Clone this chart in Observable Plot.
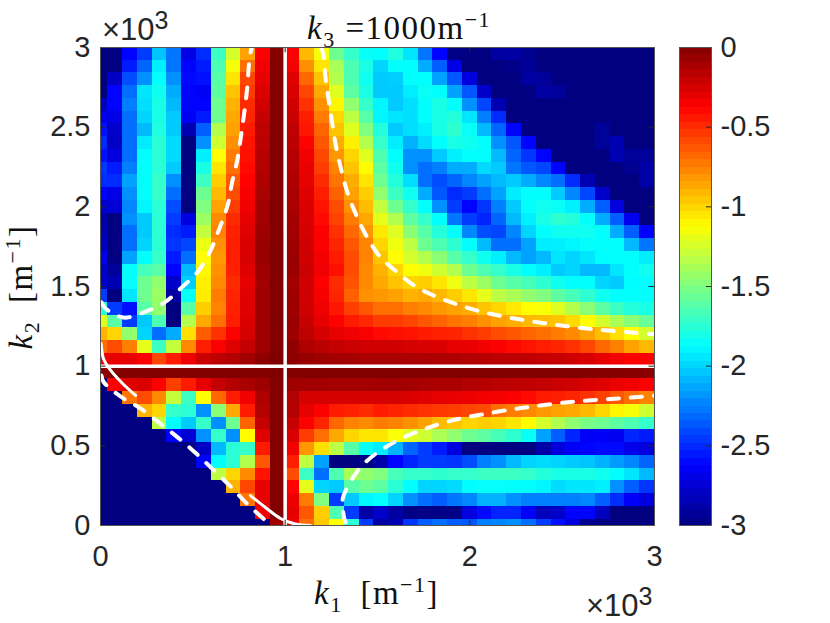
<!DOCTYPE html>
<html>
<head>
<meta charset="utf-8">
<script src="https://cdn.jsdelivr.net/npm/d3@7"></script>
<script src="https://cdn.jsdelivr.net/npm/@observablehq/plot@0.6"></script>
<style>
  body { margin: 0; background: #fff; }
  #fig { position: relative; width: 830px; height: 623px; overflow: hidden; }
  #fig svg { position: absolute; left: 0; top: 0; background: transparent; }
  .lab { position: absolute; white-space: nowrap; color: #111; font: 33px/1 "Liberation Serif", serif; letter-spacing: 1.5px; }
  .lab sub, .lab sup { font-size: 22px; line-height: 0; }
  .lab .gap { margin-left: 8px; }
  .mult { position: absolute; white-space: nowrap; color: #262626; font: 31px/1 "Liberation Sans", sans-serif; }
  .mult sup { font-size: 25px; line-height: 0; }
</style>
</head>
<body>
<div id="fig">
  <div class="mult" style="left:102px;top:14px">×10<sup>3</sup></div>
  <div class="lab" style="left:307px;top:12px"><i>k</i><sub>3</sub> =1000m<sup>−1</sup></div>
  <div class="lab" style="left:314px;top:577px"><i>k</i><sub>1</sub> <span class="gap">[m<sup>−1</sup>]</span></div>
  <div class="mult" style="left:586px;top:590px">×10<sup>3</sup></div>
  <div class="lab" style="left:21px;top:287px;transform:translate(-50%,-50%) rotate(-90deg)"><i>k</i><sub>2</sub> <span class="gap">[m<sup>−1</sup>]</span></div>
</div>
<script>
// cell edges of k1 and k2, the first cell is a half one
const edges = [0, 40, 120, 200, 280, 360, 440, 520, 600, 680, 760, 840, 920, 1000, 1080, 1160, 1240, 1320, 1400, 1480,
  1560, 1640, 1720, 1800, 1880, 1960, 2040, 2120, 2200, 2280, 2360, 2440, 2520, 2600, 2680, 2760, 2840, 2920, 3000];

// log10 level per cell, top row (k2 = 3000) first, left to right
const levels = [
  [-3,-3,-2.62,-2.45,-2.05,-2.28,-2.7,-2.5,-1.7,-1.25,-.85,-.37,-.02,-.37,-.92,-1.15,-1.55,-1.72,-1.85, -1.87,-1.78,-1.95,-2.28,-2.62,-2.98,-3,-3,-2.9,-2.9,-2.95,-3,-3,-3,-3,-3,-3,-3,-3],
  [-3,-3,-2.55,-2.33,-1.92,-2.28,-2.62,-2.55,-1.65,-1.15,-.7,-.33,-.01,-.35,-.8,-1.05,-1.38,-1.65,-1.8, -2,-1.87,-1.87,-2.12,-2.35,-2.7,-3,-3,-3,-2.97,-2.93,-3,-3,-3,-3,-3,-3,-3,-3],
  [-3,-2.8,-2.4,-2.2,-1.87,-2.2,-2.6,-2.58,-1.62,-1.05,-.58,-.3,-.01,-.28,-.68,-.95,-1.35,-1.65,-1.83, -2.03,-2.02,-1.87,-1.87,-2.15,-2.37,-2.72,-3,-3,-3,-2.9,-2.92,-3,-3,-3,-3,-3,-3,-3],
  [-3,-2.62,-2.3,-1.95,-1.83,-2.12,-2.62,-2.65,-1.6,-.95,-.55,-.27,-.01,-.27,-.58,-.87,-1.22,-1.6,-1.8, -2.03,-2.03,-1.93,-1.85,-1.87,-2.15,-2.37,-2.78,-3,-3,-3,-2.9,-2.92,-3,-3,-3,-3,-3,-3],
  [-2.8,-2.62,-2.25,-1.97,-1.8,-2.08,-2.62,-2.62,-1.55,-.9,-.5,-.24,-.01,-.24,-.52,-.8,-1.1,-1.45,-1.72, -1.9,-2.03,-1.97,-1.87,-1.8,-1.87,-2.2,-2.42,-2.85,-3,-3,-3,-3,-3,-3,-3,-3,-3,-3],
  [-2.68,-2.7,-2.3,-2,-1.8,-2.03,-2.65,-2.55,-1.55,-.87,-.48,-.2,-.01,-.22,-.46,-.74,-1,-1.32,-1.62, -1.9,-1.95,-1.97,-1.87,-1.8,-1.77,-1.95,-2.25,-2.5,-3,-3,-3,-3,-3,-3,-3,-3,-3,-3],
  [-2.58,-2.78,-2.3,-2.08,-1.78,-2.03,-2.85,-2.35,-1.35,-.85,-.45,-.18,-.01,-.18,-.44,-.67,-.95,-1.22,-1.5, -1.77,-2.03,-1.97,-1.92,-1.8,-1.74,-1.85,-2.08,-2.33,-2.62,-3,-3,-3,-3,-3,-2.92,-3,-3,-3],
  [-2.5,-2.8,-2.3,-1.93,-1.75,-1.98,-3,-2.2,-1.27,-.8,-.43,-.17,-.01,-.17,-.38,-.63,-.88,-1.08,-1.35, -1.72,-1.93,-2.1,-1.98,-1.87,-1.8,-1.83,-1.87,-2.2,-2.37,-2.62,-3,-3,-3,-3,-2.92,-2.85,-3,-3],
  [-2.58,-2.72,-2.3,-1.87,-1.75,-1.98,-3,-1.92,-1.13,-.74,-.42,-.16,-.01,-.16,-.33,-.58,-.82,-1,-1.22, -1.65,-1.87,-2.2,-2.2,-2.03,-1.92,-1.87,-1.87,-2.08,-2.33,-2.47,-2.62,-3,-3,-3,-3,-2.85,-2.92,-2.92],
  [-2.47,-2.55,-2.25,-1.87,-1.75,-2.03,-3,-1.8,-1.05,-.7,-.4,-.15,-.01,-.15,-.31,-.55,-.76,-.95,-1.12, -1.6,-1.83,-2.2,-2.3,-2.25,-2.12,-2.12,-1.98,-2.03,-2.28,-2.37,-2.42,-2.62,-3,-3,-3,-3,-2.95,-2.88],
  [-2.5,-2.5,-2.15,-1.87,-1.72,-2.2,-3,-1.7,-.98,-.64,-.38,-.14,-.01,-.14,-.3,-.5,-.72,-.88,-1.05, -1.55,-1.77,-1.97,-2.3,-2.4,-2.33,-2.23,-2.15,-2.08,-2.03,-2.12,-2.23,-2.3,-2.5,-2.85,-3,-3,-3,-2.88],
  [-2.62,-2.7,-2.2,-1.87,-1.72,-2.3,-3,-1.55,-.92,-.6,-.35,-.12,-.01,-.12,-.28,-.46,-.66,-.85,-.98, -1.45,-1.7,-1.83,-2.12,-2.37,-2.5,-2.45,-2.3,-2.15,-1.93,-1.87,-1.87,-2.03,-2.23,-2.42,-2.78,-3,-3,-3],
  [-2.78,-2.75,-2.23,-1.9,-1.75,-2.4,-3,-1.5,-.85,-.55,-.33,-.1,-.01,-.12,-.27,-.43,-.6,-.8,-.93, -1.3,-1.55,-1.72,-1.87,-2.2,-2.45,-2.62,-2.47,-2.25,-2.03,-1.87,-1.83,-1.85,-1.92,-2.12,-2.35,-2.72,-3,-3],
  [-2.88,-3,-2.2,-2.03,-1.75,-2.45,-2.72,-1.42,-.78,-.5,-.3,-.1,-.01,-.11,-.26,-.4,-.57,-.74,-.87, -1.2,-1.35,-1.6,-1.72,-1.87,-2.28,-2.45,-2.52,-2.33,-2.08,-1.92,-1.8,-1.74,-1.77,-1.87,-2.12,-2.35,-2.68,-3],
  [-2.85,-3,-2.3,-2.03,-1.75,-2.5,-2.55,-1.3,-.76,-.47,-.28,-.09,-.01,-.1,-.25,-.37,-.52,-.68,-.82, -1.06,-1.22,-1.47,-1.62,-1.77,-1.87,-2.23,-2.4,-2.42,-2.23,-2,-1.87,-1.83,-1.83,-1.83,-1.87,-2.12,-2.35,-2.62],
  [-2.8,-3,-2.3,-2,-1.75,-2.47,-2.42,-1.18,-.8,-.46,-.27,-.08,-.01,-.09,-.24,-.36,-.48,-.63,-.76, -1,-1.17,-1.32,-1.55,-1.65,-1.74,-1.87,-2.08,-2.3,-2.3,-2.15,-1.93,-1.92,-1.9,-1.87,-1.87,-1.87,-2.08,-2.28],
  [-2.68,-3,-2.15,-1.87,-1.72,-2.55,-2.3,-1.13,-.82,-.46,-.26,-.07,-.01,-.08,-.23,-.34,-.45,-.6,-.76, -.95,-1.12,-1.25,-1.35,-1.47,-1.62,-1.72,-1.83,-1.92,-2.08,-2.15,-2.08,-1.95,-2,-1.95,-1.88,-1.87,-1.87,-1.93],
  [-2.78,-2.92,-1.87,-1.67,-1.62,-2.62,-2.08,-1.1,-.8,-.47,-.28,-.09,-.01,-.08,-.22,-.33,-.42,-.6,-.78, -.9,-1,-1.12,-1.17,-1.27,-1.35,-1.55,-1.65,-1.72,-1.8,-1.87,-1.92,-2.03,-2,-2.08,-2.08,-1.95,-1.87,-1.83],
  [-2.78,-2.85,-1.87,-1.55,-1.45,-2.78,-2.02,-1.08,-.78,-.5,-.3,-.1,-.01,-.1,-.24,-.37,-.5,-.62,-.78, -.87,-.95,-1,-.98,-1.05,-1.17,-1.32,-1.42,-1.55,-1.62,-1.67,-1.74,-1.83,-1.87,-1.87,-2,-2.03,-1.88,-1.87],
  [-2.45,-3,-1.95,-1.55,-1.42,-2.9,-1.85,-1.07,-.74,-.48,-.28,-.09,-.01,-.09,-.24,-.35,-.48,-.66,-.8, -.82,-.85,-.9,-.87,-.92,-.98,-1.05,-1.2,-1.32,-1.37,-1.45,-1.5,-1.6,-1.67,-1.74,-1.83,-1.87,-1.87,-1.87],
  [-1.75,-2.45,-2.58,-1.62,-1.45,-3,-1.62,-.98,-.76,-.47,-.28,-.09,-.01,-.09,-.23,-.33,-.44,-.56,-.63, -.7,-.7,-.75,-.78,-.82,-.85,-.88,-.95,-1,-1.06,-1.12,-1.14,-1.22,-1.35,-1.47,-1.6,-1.7,-1.77,-1.8],
  [-1.22,-1.62,-2.45,-2.03,-1.65,-3,-1.35,-.87,-.7,-.46,-.27,-.09,-.01,-.08,-.21,-.3,-.37,-.45,-.49, -.55,-.55,-.58,-.63,-.67,-.72,-.75,-.8,-.85,-.88,-.92,-.93,-.95,-1.02,-1.12,-1.25,-1.37,-1.47,-1.57],
  [-.9,-1,-1.45,-2,-2.3,-2.12,-1.03,-.65,-.52,-.37,-.25,-.09,-.01,-.09,-.18,-.25,-.3,-.33,-.36, -.4,-.42,-.43,-.45,-.47,-.48,-.52,-.55,-.6,-.63,-.67,-.7,-.74,-.78,-.85,-.93,-1.03,-1.12,-1.25],
  [-.7,-.6,-.75,-1.2,-1.7,-1.3,-.78,-.46,-.36,-.28,-.2,-.09,-.01,-.05,-.14,-.17,-.2,-.22,-.24, -.24,-.24,-.25,-.26,-.27,-.3,-.31,-.34,-.37,-.4,-.43,-.46,-.48,-.52,-.58,-.68,-.75,-.85,-.92],
  [-.33,-.3,-.3,-.37,-.58,-.45,-.33,-.22,-.18,-.15,-.1,-.04,0,-.04,-.07,-.09,-.1,-.11,-.12, -.12,-.12,-.13,-.13,-.14,-.14,-.15,-.16,-.17,-.18,-.19,-.2,-.21,-.24,-.26,-.3,-.34,-.37,-.37],
  [-.05,-.01,-.01,-.01,-.01,-.01,-.01,-.01,-.01,-.01,-.01,-.01,0,-.01,-.01,-.01,-.01,-.01,-.01, -.01,-.01,-.01,-.01,-.01,-.01,-.01,-.01,-.01,-.01,-.01,-.01,-.01,-.01,-.01,-.02,-.02,-.03,-.03],
  [-3,-.37,-.28,-.27,-.37,-.56,-.45,-.3,-.2,-.15,-.12,-.09,-.01,-.09,-.1,-.1,-.11,-.11,-.11, -.1,-.1,-.11,-.12,-.13,-.13,-.15,-.16,-.17,-.18,-.19,-.2,-.22,-.23,-.26,-.28,-.32,-.34,-.37],
  [-3,-3,-.72,-.6,-.78,-1.3,-1.7,-1.13,-.68,-.45,-.34,-.14,-.01,-.15,-.25,-.25,-.25,-.25,-.25, -.25,-.25,-.27,-.28,-.3,-.31,-.32,-.34,-.35,-.37,-.4,-.45,-.46,-.48,-.52,-.56,-.63,-.7,-.76],
  [-3,-3,-3,-.9,-1,-1.72,-1.75,-2.2,-1.47,-.87,-.45,-.15,-.01,-.15,-.3,-.37,-.45,-.47,-.5, -.45,-.48,-.5,-.52,-.54,-.55,-.58,-.6,-.7,-.74,-.78,-.82,-.85,-.87,-.92,-1,-1.1,-1.15,-1.27],
  [-3,-3,-3,-3,-1.32,-1.87,-2.03,-1.72,-2.2,-1.55,-.67,-.2,-.01,-.2,-.37,-.48,-.68,-.76,-.78, -.74,-.76,-.8,-.85,-.92,-.95,-1,-.98,-1,-1.05,-1.12,-1.25,-1.35,-1.45,-1.52,-1.55,-1.6,-1.65,-1.72],
  [-3,-3,-3,-3,-3,-2.62,-2.75,-2.2,-1.72,-2.2,-1.12,-.28,-.01,-.26,-.55,-.7,-.87,-1,-1.05, -1.05,-1.14,-1.22,-1.27,-1.37,-1.45,-1.55,-1.6,-1.67,-1.74,-1.85,-2.15,-2.35,-2.52,-2.65,-2.65,-2.67,-2.52,-2.55],
  [-3,-3,-3,-3,-3,-3,-3,-2.8,-2.08,-1.75,-1.72,-.45,-.01,-.34,-.82,-1.03,-1.32,-1.62,-1.85, -1.93,-2.1,-2.33,-2.45,-2.55,-2.72,-3,-3,-3,-3,-3,-2.88,-2.72,-2.65,-2.62,-2.6,-2.6,-2.68,-2.72],
  [-3,-3,-3,-3,-3,-3,-3,-2.62,-1.87,-1.75,-1.35,-.63,-.01,-.46,-1.32,-2.15,-3,-3,-3, -2.88,-2.62,-2.52,-2.45,-2.45,-2.47,-2.4,-2.25,-2.2,-2.08,-2,-1.98,-2,-2.03,-2.05,-2.1,-2.17,-2.23,-2.33],
  [-3,-3,-3,-3,-3,-3,-3,-3,-1.32,-1,-.78,-.43,-.01,-.6,-1.7,-2.3,-1.65,-1.38,-1.45, -1.5,-1.67,-1.72,-1.72,-1.74,-1.72,-1.72,-1.7,-1.7,-1.7,-1.72,-1.77,-1.8,-1.8,-1.8,-1.83,-1.87,-1.95,-2.08],
  [-3,-3,-3,-3,-3,-3,-3,-3,-3,-.9,-.58,-.3,-.01,-.38,-1.2,-2,-2.03,-1.62,-1.55, -1.6,-1.75,-1.87,-2,-2,-1.98,-1.88,-1.86,-1.86,-1.87,-1.87,-1.9,-1.98,-1.95,-1.95,-1.92,-2.2,-2.35,-2.47],
  [-3,-3,-3,-3,-3,-3,-3,-3,-3,-3,-.72,-.3,-.01,-.32,-.74,-1.5,-2.45,-2.03,-1.9, -1.87,-2,-2.2,-2.3,-2.35,-2.28,-2.23,-2.1,-2.1,-2.2,-2.25,-2.25,-2.25,-2.25,-2.23,-2.35,-2.5,-2.65,-2.72],
  [-3,-3,-3,-3,-3,-3,-3,-3,-3,-3,-3,-.33,-.01,-.3,-.63,-.98,-1.65,-2.45,-2.88, -2.78,-2.9,-2.98,-2.98,-2.98,-2.98,-2.72,-2.6,-2.52,-2.52,-2.65,-2.82,-2.78,-2.62,-2.62,-2.82,-3,-3,-3],
  [-3,-3,-3,-3,-3,-3,-3,-3,-3,-3,-3,-3,-.1,-.34,-.7,-.96,-1.13,-1.75,-2.45, -2.9,-2.85,-2.47,-2.35,-2.3,-2.35,-2.37,-2.25,-2.23,-2.2,-2.3,-2.45,-2.58,-2.72,-2.95,-3,-3,-3,-3]
];

// dashed curves as [k1, k2]
const curveTopLeft = [[5,1400],[27,1362],[125,1305],[244,1343],[347,1400],[442,1496],[532,1600],[596,1726],[644,1864],[688,2008],[713,2155],[742,2301],[760,2437],[780,2605],[794,2741],[807,2929],[818,3000]];
const curveTopRight = [[1194,3000],[1206,2962],[1218,2813],[1236,2667],[1255,2523],[1276,2374],[1305,2228],[1339,2084],[1386,1946],[1444,1809],[1516,1684],[1607,1590],[1706,1500],[1814,1439],[1922,1391],[2040,1349],[2157,1318],[2283,1291],[2401,1270],[2527,1251],[2644,1234],[2771,1222],[2897,1209],[3000,1200]];
const curveBottomRight = [[1327,19],[1317,63],[1312,168],[1363,293],[1426,387],[1516,471],[1625,544],[1733,596],[1850,642],[1967,676],[2085,701],[2211,726],[2328,745],[2455,764],[2572,778],[2698,789],[2825,799],[2951,810],[3000,814]];
const curveBottomLeft = [[5,941],[18,899],[108,810],[220,732],[325,638],[421,550],[520,450],[610,351],[704,245],[794,136],[893,31],[921,0]];
// solid curves near the corners
const solidLeft = [[3,1142],[16,1048],[43,992],[114,897],[190,816]];
const solidBottom = [[812,188],[893,113],[975,44],[1056,9],[1137,0]];

const axisTicksX = [0, 1000, 2000, 3000];
const axisTicksY = [0, 500, 1000, 1500, 2000, 2500, 3000];
const barTicks = [-3, -2.5, -2, -1.5, -1, -0.5, 0];
const barTickLabels = ["-3", "-2.5", "-2", "-1.5", "-1", "-0.5", "0"];

const jet = {
  type: "linear",
  domain: [-3, -2.625, -1.875, -1.125, -0.375, 0],
  range: ["#000080", "#0000ff", "#00ffff", "#ffff00", "#ff0000", "#800000"]
};

const cells = levels.flatMap((row, r) =>
  row.map((v, c) => ({ c, j: levels.length - 1 - r, v }))
);
const dashed = [curveTopLeft, curveTopRight, curveBottomRight, curveBottomLeft];
const solid = [solidLeft, solidBottom];
const textStyle = {
  fontFamily: "'Liberation Sans', sans-serif",
  fontSize: "29px",
  color: "#262626"
};

const main = Plot.plot({
  width: 830,
  height: 623,
  marginLeft: 100,
  marginRight: 176,
  marginTop: 47,
  marginBottom: 98,
  style: textStyle,
  x: { domain: [0, 3000] },
  y: { domain: [0, 3000] },
  color: jet,
  marks: [
    Plot.rect(cells, {
      x1: (d) => edges[d.c],
      x2: (d) => edges[d.c + 1],
      y1: (d) => edges[d.j],
      y2: (d) => edges[d.j + 1],
      fill: "v",
      shapeRendering: "crispEdges"
    }),
    dashed.map((curve) =>
      Plot.line(curve, {
        x: "0",
        y: "1",
        stroke: "white",
        strokeWidth: 4,
        strokeDasharray: "11,12",
        curve: "catmull-rom",
        clip: true
      })
    ),
    solid.map((curve) =>
      Plot.line(curve, { x: "0", y: "1", stroke: "white", strokeWidth: 3, curve: "catmull-rom", clip: true })
    ),
    Plot.ruleX([1000], { stroke: "white", strokeWidth: 3.5 }),
    Plot.ruleY([1000], { stroke: "white", strokeWidth: 3.5 }),
    Plot.ruleX(axisTicksX, { y1: 0, y2: 33, stroke: "#262626" }),
    Plot.ruleX(axisTicksX, { y1: 2967, y2: 3000, stroke: "#262626" }),
    Plot.ruleY(axisTicksY, { x1: 0, x2: 30, stroke: "#262626" }),
    Plot.ruleY(axisTicksY, { x1: 2970, x2: 3000, stroke: "#262626" }),
    Plot.frame({ stroke: "#555" }),
    Plot.axisX({
      ticks: axisTicksX,
      tickSize: 0,
      tickPadding: 20,
      tickFormat: (d) => d / 1000,
      label: null
    }),
    Plot.axisY({
      ticks: axisTicksY,
      tickSize: 0,
      tickPadding: 10,
      tickFormat: (d) => d / 1000,
      label: null
    })
  ]
});

// colorbar, same vertical range as the heat map
const barLevels = d3.range(-3, 0, 3 / 64);
const bar = Plot.plot({
  width: 830,
  height: 623,
  marginLeft: 679,
  marginRight: 119,
  marginTop: 47,
  marginBottom: 98,
  style: textStyle,
  x: { domain: [0, 1], axis: null },
  y: { domain: [-3, 0] },
  color: jet,
  marks: [
    Plot.rect(barLevels, {
      x1: 0,
      x2: 1,
      y1: (d) => d,
      y2: (d) => d + 3 / 64,
      fill: (d) => d + 1.5 / 64,
      shapeRendering: "crispEdges"
    }),
    Plot.ruleY(barTicks, { x1: 0.84, x2: 1, stroke: "#262626" }),
    Plot.frame({ stroke: "#555" }),
    Plot.axisY({
      anchor: "right",
      ticks: barTicks,
      tickSize: 0,
      tickPadding: 9,
      tickFormat: (d) => barTickLabels[barTicks.indexOf(d)],
      label: null
    })
  ]
});

document.getElementById("fig").prepend(main, bar);
</script>
</body>
</html>
